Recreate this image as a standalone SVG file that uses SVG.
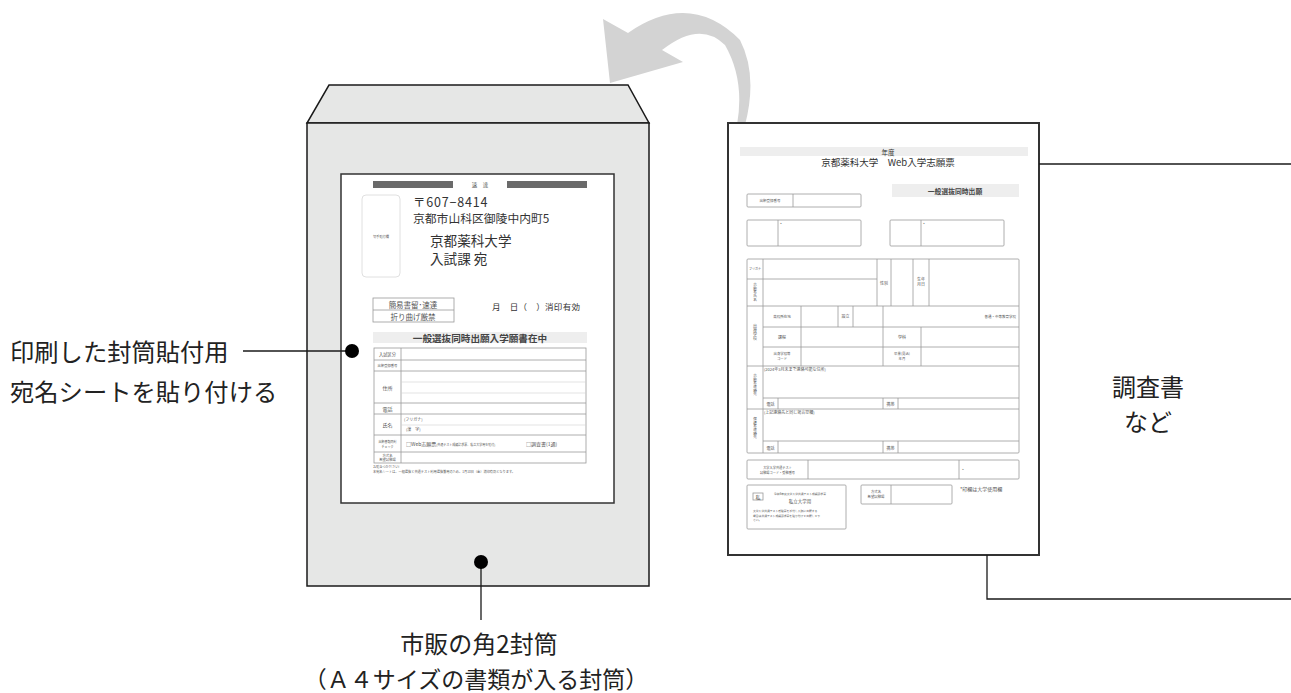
<svg xmlns="http://www.w3.org/2000/svg" width="1291" height="693" viewBox="0 0 1291 693">
<style>
.env{fill:#e6e7e6;stroke:#1a1a1a;stroke-width:1.5}
.sheet{fill:#fff;stroke:#333;stroke-width:1.5}
.tl{fill:none;stroke:#9a9a9a;stroke-width:0.8}
.tll{fill:none;stroke:#d0d0d0;stroke-width:0.6}
.band{fill:#eeeeee}
.bar{fill:#6a6a6a}
.ln{fill:none;stroke:#1a1a1a;stroke-width:1.3}
.dot{fill:#000}
.lbl{font-family:"Noto Sans CJK JP","Noto Sans",sans-serif;fill:#222}
.tx{font-family:"Noto Sans CJK JP","Noto Sans",sans-serif;fill:#555}
.dk{font-family:"Noto Sans CJK JP","Noto Sans",sans-serif;fill:#333}
.vt{writing-mode:vertical-rl}
</style>

<!-- curved arrow -->
<g id="arrow">
<path d="M610,83 L603,19 L628,33 Q690,-10 740,40 Q758,75 745,125 L737,125 Q745,80 725,45 Q700,20 662,50 L683,62 Z" fill="#d3d3d3"/>
</g>

<!-- envelope -->
<g id="envelope">
<polygon class="env" points="329,85 628,85 649,123 307,123"/>
<rect class="env" x="307" y="123" width="342" height="463"/>
</g>

<!-- address sheet on envelope -->
<g id="address-sheet">
<rect class="sheet" x="341" y="174" width="273" height="329"/>
<rect class="bar" x="373" y="181" width="80" height="7"/>
<rect class="bar" x="507" y="181" width="80" height="7"/>
<text class="tx" x="480" y="187" font-size="5.5" text-anchor="middle">速　達</text>
<rect x="362" y="195" width="38" height="82" rx="4" fill="#fff" stroke="#d8d8d8" stroke-width="0.8"/>
<text class="tx" x="381" y="238" font-size="3.2" text-anchor="middle">切手貼付欄</text>
<text class="dk" x="413" y="207" font-size="12.5" letter-spacing="0.8">〒607−8414</text>
<text class="dk" x="413" y="223" font-size="11.8">京都市山科区御陵中内町5</text>
<text class="dk" x="430" y="246" font-size="13.6">京都薬科大学</text>
<text class="dk" x="430" y="264" font-size="13.6">入試課 宛</text>
<rect class="tl" x="373" y="298" width="81" height="24"/>
<line class="tl" x1="373" y1="310" x2="454" y2="310"/>
<text class="tx" x="413" y="307.5" font-size="7.5" text-anchor="middle">簡易書留･速達</text>
<text class="tx" x="413" y="319.5" font-size="7.5" text-anchor="middle">折り曲げ厳禁</text>
<text class="dk" x="492" y="310" font-size="8.5" textLength="88">月　日（　）消印有効</text>
<rect class="band" x="373" y="332" width="214" height="11"/>
<text x="480" y="341.5" font-size="9.6" font-weight="bold" text-anchor="middle" style="font-family:'Noto Sans CJK JP',sans-serif;fill:#444">一般選抜同時出願入学願書在中</text>
<rect class="tl" x="374" y="348" width="212" height="115"/>
<line class="tl" x1="401" y1="348" x2="401" y2="463"/>
<line class="tl" x1="374" y1="360" x2="586" y2="360"/>
<line class="tl" x1="374" y1="371" x2="586" y2="371"/>
<line class="tll" x1="401" y1="382" x2="586" y2="382"/>
<line class="tll" x1="401" y1="393" x2="586" y2="393"/>
<line class="tl" x1="374" y1="403" x2="586" y2="403"/>
<line class="tl" x1="374" y1="414" x2="586" y2="414"/>
<line class="tll" x1="401" y1="425" x2="586" y2="425"/>
<line class="tl" x1="374" y1="435" x2="586" y2="435"/>
<line class="tl" x1="374" y1="452" x2="586" y2="452"/>
<text class="tx" x="387.5" y="356" font-size="4.2" text-anchor="middle">入試区分</text>
<text class="tx" x="387.5" y="367" font-size="3.3" text-anchor="middle">出願登録番号</text>
<text class="tx" x="387.5" y="389.5" font-size="5" text-anchor="middle">住所</text>
<text class="tx" x="387.5" y="410.5" font-size="5" text-anchor="middle">電話</text>
<text class="tx" x="387.5" y="426.5" font-size="5" text-anchor="middle">氏名</text>
<text class="tx" x="387.5" y="442.5" font-size="3" text-anchor="middle">出願書類同封</text>
<text class="tx" x="387.5" y="447.5" font-size="3" text-anchor="middle">チェック</text>
<text class="tx" x="387.5" y="456.5" font-size="3.3" text-anchor="middle">方式名</text>
<text class="tx" x="387.5" y="461" font-size="3.3" text-anchor="middle">希望試験場</text>
<text class="tx" x="404" y="420.5" font-size="4">(フリガナ)</text>
<text class="tx" x="406" y="431" font-size="4">(漢　字)</text>
<text class="tx" x="406" y="445.5" font-size="5">□Web志願票<tspan font-size="3">(共通テスト成績請求票、私立大学用を貼付)</tspan></text>
<text class="tx" x="526" y="445.5" font-size="5">□調査書(1通)</text>
<text class="tx" x="373" y="468" font-size="3.2">お貼るつかださい!</text>
<text class="tx" x="373" y="473" font-size="3.2">本宛名シートは、一般選抜と共通テスト利用選抜兼用のため、1月10日（金）消印有効となります。</text>
</g>

<!-- application form page -->
<g id="application-form">
<rect x="728" y="123" width="311" height="432" fill="#fff" stroke="#333" stroke-width="2"/>
<rect class="band" x="740" y="147" width="288" height="9"/>
<text class="dk" x="888" y="155" font-size="6.5" text-anchor="middle">年度</text>
<text class="dk" x="888" y="166" font-size="9.5" text-anchor="middle">京都薬科大学　Web入学志願票</text>
<rect class="band" x="892" y="184" width="127" height="13"/>
<text x="955" y="193.5" font-size="6.8" font-weight="bold" text-anchor="middle" style="font-family:'Noto Sans CJK JP',sans-serif;fill:#444">一般選抜同時出願</text>
<rect class="tl" x="747" y="194" width="114" height="13" rx="1"/>
<line class="tl" x1="793" y1="194" x2="793" y2="207"/>
<text class="tx" x="770" y="202" font-size="3.5" text-anchor="middle">出願登録番号</text>
<rect class="tl" x="747" y="220" width="114" height="26" rx="1"/>
<line class="tl" x1="778" y1="220" x2="778" y2="246"/>
<text class="tx" x="780" y="226" font-size="4">*</text>
<rect class="tl" x="890" y="220" width="114" height="26" rx="1"/>
<line class="tl" x1="921" y1="220" x2="921" y2="246"/>
<text class="tx" x="923" y="226" font-size="4">*</text>

<rect class="tl" x="747" y="259" width="272" height="194" rx="1"/>
<line class="tl" x1="763" y1="259" x2="763" y2="453"/>
<line class="tl" x1="747" y1="279" x2="877" y2="279"/>
<line class="tl" x1="877" y1="259" x2="877" y2="306"/>
<line class="tl" x1="891" y1="259" x2="891" y2="306"/>
<line class="tl" x1="913" y1="259" x2="913" y2="306"/>
<line class="tl" x1="929" y1="259" x2="929" y2="306"/>
<line class="tl" x1="747" y1="306" x2="1019" y2="306"/>
<line class="tl" x1="763" y1="327" x2="1019" y2="327"/>
<line class="tl" x1="763" y1="347" x2="1019" y2="347"/>
<line class="tl" x1="801" y1="306" x2="801" y2="366"/>
<line class="tl" x1="838" y1="306" x2="838" y2="327"/>
<line class="tl" x1="853" y1="306" x2="853" y2="327"/>
<line class="tl" x1="883" y1="306" x2="883" y2="366"/>
<line class="tl" x1="921" y1="327" x2="921" y2="366"/>
<line class="tl" x1="747" y1="366" x2="1019" y2="366"/>
<line class="tl" x1="763" y1="398" x2="1019" y2="398"/>
<line class="tl" x1="778" y1="398" x2="778" y2="409"/>
<line class="tl" x1="883" y1="398" x2="883" y2="409"/>
<line class="tl" x1="898" y1="398" x2="898" y2="409"/>
<line class="tl" x1="747" y1="409" x2="1019" y2="409"/>
<line class="tl" x1="763" y1="441" x2="1019" y2="441"/>
<line class="tl" x1="778" y1="441" x2="778" y2="453"/>
<line class="tl" x1="883" y1="441" x2="883" y2="453"/>
<line class="tl" x1="898" y1="441" x2="898" y2="453"/>

<text class="tx" x="755" y="270" font-size="3" text-anchor="middle">フリガナ</text>
<text class="tx vt" x="755" y="283" font-size="3.6">志願者氏名</text>
<text class="tx" x="884" y="284.5" font-size="4" text-anchor="middle">性別</text>
<text class="tx" x="921" y="281" font-size="4" text-anchor="middle">生年</text>
<text class="tx" x="921" y="286" font-size="4" text-anchor="middle">月日</text>
<text class="tx vt" x="755" y="324" font-size="4">出身学校</text>
<text class="tx" x="782" y="318" font-size="3.5" text-anchor="middle">高校所在地</text>
<text class="tx" x="845.5" y="318" font-size="4" text-anchor="middle">設立</text>
<text class="tx" x="1016" y="318" font-size="3.5" text-anchor="end">普通・中等教育学校</text>
<text class="tx" x="782" y="338.5" font-size="4" text-anchor="middle">課程</text>
<text class="tx" x="902" y="338.5" font-size="4" text-anchor="middle">学科</text>
<text class="tx" x="782" y="354.5" font-size="3.4" text-anchor="middle">出身学校等</text>
<text class="tx" x="782" y="359.5" font-size="3.4" text-anchor="middle">コード</text>
<text class="tx" x="902" y="354.5" font-size="3.4" text-anchor="middle">卒業(見込)</text>
<text class="tx" x="902" y="359.5" font-size="3.4" text-anchor="middle">年月</text>
<text class="tx" x="764" y="370.5" font-size="4">(2024年3月末まで連絡可能な住所)</text>
<text class="tx vt" x="755" y="374" font-size="3.6">志願者連絡先</text>
<text class="tx" x="770.5" y="405.5" font-size="4" text-anchor="middle">電話</text>
<text class="tx" x="890.5" y="405.5" font-size="4" text-anchor="middle">携帯</text>
<text class="tx" x="764" y="414" font-size="4">(上記連絡先と同じ場合空欄)</text>
<text class="tx vt" x="755" y="417" font-size="3.6">保護者連絡先</text>
<text class="tx" x="770.5" y="449.5" font-size="4" text-anchor="middle">電話</text>
<text class="tx" x="890.5" y="449.5" font-size="4" text-anchor="middle">携帯</text>

<rect class="tl" x="747" y="460" width="272" height="19" rx="1"/>
<line class="tl" x1="808" y1="460" x2="808" y2="479"/>
<line class="tl" x1="959" y1="460" x2="959" y2="479"/>
<text class="tx" x="777.5" y="468.5" font-size="3.2" text-anchor="middle">大学入学共通テスト</text>
<text class="tx" x="777.5" y="473.5" font-size="3.2" text-anchor="middle">試験場コード・受験番号</text>
<text class="tx" x="962" y="471.5" font-size="4">*</text>

<rect class="tl" x="747" y="485" width="99" height="44" rx="1"/>
<rect class="tl" x="753" y="493" width="10" height="7"/>
<text class="tx" x="758" y="498.5" font-size="5" text-anchor="middle">私</text>
<text class="tx" x="800" y="495" font-size="2.8" text-anchor="middle">令和6年度大学入学共通テスト成績請求票</text>
<text class="tx" x="800" y="502.5" font-size="4.5" text-anchor="middle">私立大学用</text>
<text class="tx" x="753" y="512" font-size="2.8">大学入学共通テスト受験票を添付し入試に出願する</text>
<text class="tx" x="753" y="516.5" font-size="2.8">場合は共通テスト成績請求票を貼り付けて出願して下</text>
<text class="tx" x="753" y="521" font-size="2.8">さい。</text>

<rect class="tl" x="861" y="485" width="91" height="19" rx="1"/>
<line class="tl" x1="891" y1="485" x2="891" y2="504"/>
<text class="tx" x="876" y="493" font-size="3.4" text-anchor="middle">方式名</text>
<text class="tx" x="876" y="498" font-size="3.4" text-anchor="middle">希望試験場</text>
<text class="tx" x="960" y="490.5" font-size="5">*印欄は大学使用欄</text>
</g>

<!-- connectors / brackets -->
<g id="connectors">
<line class="ln" x1="243" y1="351" x2="352" y2="351"/>
<circle class="dot" cx="352" cy="351" r="7"/>
<line class="ln" x1="481" y1="562" x2="481" y2="620"/>
<circle class="dot" cx="481" cy="562" r="7"/>
<line class="ln" x1="1039" y1="164" x2="1291" y2="164"/>
<polyline class="ln" points="987,555 987,599 1291,599"/>
</g>

<!-- labels -->
<g id="label-sheet">
<text class="lbl" x="10" y="361" font-size="24.3">印刷した封筒貼付用</text>
<text class="lbl" x="10" y="401" font-size="24.3">宛名シートを貼り付ける</text>
</g>
<g id="label-envelope">
<text class="lbl" x="479" y="653" font-size="24" text-anchor="middle">市販の角2封筒</text>
<text class="lbl" x="476" y="688" font-size="23" text-anchor="middle">（Ａ４サイズの書類が入る封筒）</text>
</g>
<g id="label-docs">
<text class="lbl" x="1148" y="396" font-size="24" text-anchor="middle">調査書</text>
<text class="lbl" x="1148" y="431" font-size="24" text-anchor="middle">など</text>
</g>
</svg>
